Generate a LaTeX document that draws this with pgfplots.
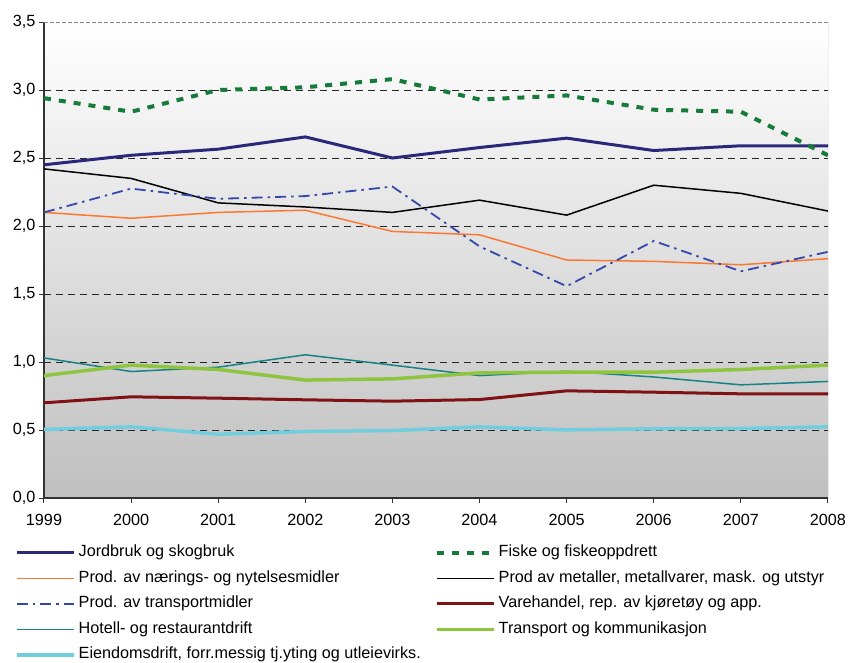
\documentclass[border=0pt]{standalone}
\usepackage{fontspec}
\setmainfont{Liberation Sans}
\usepackage{pgfplots}
\pgfplotsset{compat=1.18}
\definecolor{cNavy}{RGB}{43,40,122}
\definecolor{cGreenD}{RGB}{22,122,58}
\definecolor{cOrange}{RGB}{250,120,50}
\definecolor{cBlue}{RGB}{50,72,170}
\definecolor{cRed}{RGB}{128,18,22}
\definecolor{cTeal}{RGB}{22,130,132}
\definecolor{cLime}{RGB}{142,196,62}
\definecolor{cCyan}{RGB}{112,206,222}
\newcommand{\fs}{\fontsize{16.2}{19}\selectfont}
\newcommand{\legL}[1]{\hspace*{3pt}\makebox[356pt][l]{#1}}
\newcommand{\legR}[1]{\hspace*{3pt}#1}
\begin{document}
\begin{tikzpicture}
\begin{axis}[
  scale only axis,
  width=784pt, height=476pt,
  xmin=1999, xmax=2008, ymin=0, ymax=3.5,
  xtick={1999,...,2008},
  ytick={0,0.5,...,3.5},
  extra y ticks={0.5,1,1.5,2,2.5,3},
  extra y tick labels={},
  extra y tick style={grid=major, major tick length=0pt},
  major grid style={black!85, line width=0.8pt, dash pattern=on 7pt off 5pt},
  axis lines=left,
  axis line style={-, black!80, line width=1.3pt},
  tick align=outside,
  major tick length=5pt,
  tick style={black!80, line width=1pt},
  xtick pos=bottom, ytick pos=left,
  axis background/.style={shade, top color=white, bottom color=black!25},
  /pgf/number format/assume math mode=true,
  yticklabel style={font=\fs, /pgf/number format/.cd, use comma, fixed, fixed zerofill, precision=1},
  xticklabel style={font=\fs, /pgf/number format/1000 sep={}, yshift=-8pt},
  legend columns=2,
  legend style={at={(-0.0408,-0.094)}, anchor=north west, draw=none, fill=none,
    font=\fs, column sep=0pt, row sep=9.5pt,
    nodes={inner sep=0pt, text height=12pt, text depth=4pt}},
  legend cell align=left,
  legend image code/.code={\draw[#1] (0pt,0pt) -- (57pt,0pt);},
]
\addplot[cNavy, line width=3pt] coordinates {(1999,2.45) (2000,2.52) (2001,2.565) (2002,2.655) (2003,2.50) (2004,2.577) (2005,2.646) (2006,2.555) (2007,2.59) (2008,2.59)};
\addlegendentry{\legL{Jordbruk og skogbruk}}
\addplot[cGreenD, line width=4pt, dash pattern=on 7pt off 8pt] coordinates {(1999,2.94) (2000,2.84) (2001,3.0) (2002,3.02) (2003,3.08) (2004,2.93) (2005,2.96) (2006,2.855) (2007,2.84) (2008,2.52)};
\addlegendentry{\legR{Fiske og fiskeoppdrett}}
\addplot[cOrange, line width=1.5pt] coordinates {(1999,2.10) (2000,2.057) (2001,2.10) (2002,2.116) (2003,1.96) (2004,1.935) (2005,1.75) (2006,1.74) (2007,1.715) (2008,1.76)};
\addlegendentry{\legL{Prod. av nærings- og nytelsesmidler}}
\addplot[black, line width=1.5pt] coordinates {(1999,2.42) (2000,2.35) (2001,2.17) (2002,2.14) (2003,2.10) (2004,2.19) (2005,2.08) (2006,2.30) (2007,2.24) (2008,2.11)};
\addlegendentry{\legR{Prod av metaller, metallvarer, mask. og utstyr}}
\addplot[cBlue, line width=1.8pt, dash pattern=on 11pt off 5pt on 2.5pt off 5pt] coordinates {(1999,2.10) (2000,2.275) (2001,2.20) (2002,2.22) (2003,2.29) (2004,1.85) (2005,1.557) (2006,1.89) (2007,1.667) (2008,1.81)};
\addlegendentry{\legL{Prod. av transportmidler}}
\addplot[cRed, line width=3pt] coordinates {(1999,0.70) (2000,0.744) (2001,0.734) (2002,0.722) (2003,0.712) (2004,0.724) (2005,0.788) (2006,0.778) (2007,0.766) (2008,0.766)};
\addlegendentry{\legR{Varehandel, rep. av kjøretøy og app.}}
\addplot[cTeal, line width=1.5pt] coordinates {(1999,1.03) (2000,0.93) (2001,0.962) (2002,1.053) (2003,0.977) (2004,0.90) (2005,0.932) (2006,0.89) (2007,0.832) (2008,0.857)};
\addlegendentry{\legL{Hotell- og restaurantdrift}}
\addplot[cLime, line width=3.5pt] coordinates {(1999,0.90) (2000,0.977) (2001,0.945) (2002,0.867) (2003,0.876) (2004,0.92) (2005,0.925) (2006,0.925) (2007,0.945) (2008,0.977)};
\addlegendentry{\legR{Transport og kommunikasjon}}
\addplot[cCyan, line width=3.5pt] coordinates {(1999,0.504) (2000,0.523) (2001,0.469) (2002,0.489) (2003,0.496) (2004,0.523) (2005,0.501) (2006,0.509) (2007,0.511) (2008,0.523)};
\addlegendentry{\legL{Eiendomsdrift, forr.messig tj.yting og utleievirks.}}
\draw[black!45, line width=1pt] (rel axis cs:1,0) -- (rel axis cs:1,1);
\draw[black!45, line width=1.2pt, dash pattern=on 4pt off 2pt] (rel axis cs:0,1) -- (rel axis cs:1,1);
\end{axis}
\pgfresetboundingbox
\useasboundingbox (-44pt,-164pt) rectangle (805pt,498pt);
\end{tikzpicture}
\end{document}
